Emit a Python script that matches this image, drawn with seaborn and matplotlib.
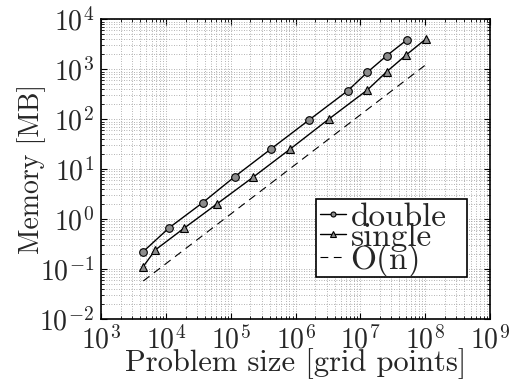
import numpy as np
import pandas as pd
import seaborn as sns
from matplotlib import pyplot as plt
from matplotlib.patches import Rectangle
from matplotlib.ticker import LogLocator, NullFormatter

# problem size [grid points] and memory [MB]
double_n = [4.46e3, 1.13e4, 3.7e4, 1.15e5, 4.18e5, 1.62e6, 6.4e6, 1.28e7, 2.55e7, 5.2e7]
double_mem = [0.225, 0.68, 2.15, 7.1, 25.5, 97, 373, 871, 1871, 3855]

single_n = [4.46e3, 6.85e3, 1.9e4, 6.1e4, 2.2e5, 8.3e5, 3.23e6, 1.28e7, 2.55e7, 5.08e7, 1.01e8]
single_mem = [0.113, 0.243, 0.66, 2.02, 6.9, 25.5, 100, 385, 895, 1930, 3980]

on_n = [4.46e3, 1.01e8]
on_mem = [0.058, 1219]

sns.set_style("ticks")
plt.rcParams['font.family'] = ['cmr10', 'DejaVu Serif']
plt.rcParams['mathtext.fontset'] = 'cm'
plt.rcParams['axes.formatter.use_mathtext'] = True
plt.rcParams['axes.unicode_minus'] = False

fig = plt.figure(figsize=(5.11, 3.85), dpi=100)
ax = fig.add_axes([0.198, 0.171, 0.761, 0.779])

sns.lineplot(x=double_n, y=double_mem, ax=ax, color='black', lw=1,
             marker='o', markersize=5.5, markerfacecolor='#8c8c8c',
             markeredgecolor='black', markeredgewidth=0.8, label='double')
sns.lineplot(x=single_n, y=single_mem, ax=ax, color='black', lw=1,
             marker='^', markersize=6, markerfacecolor='#8c8c8c',
             markeredgecolor='black', markeredgewidth=0.8, label='single')
sns.lineplot(x=on_n, y=on_mem, ax=ax, color='black', lw=0.8,
             linestyle=(0, (7, 5)), label='O(n)')

ax.set_xscale('log')
ax.set_yscale('log')
ax.set_xlim(1e3, 1e9)
ax.set_ylim(1e-2, 1e4)
ax.set_xticks([10.0**k for k in range(3, 10)])
ax.set_yticks([10.0**k for k in range(-2, 5)])
for axis in (ax.xaxis, ax.yaxis):
    axis.set_minor_locator(LogLocator(base=10, subs=np.arange(2, 10), numticks=100))
    axis.set_minor_formatter(NullFormatter())

ax.grid(True, which='both', color='#9a9a9a', linestyle=(0, (1, 2)), lw=0.6)
ax.tick_params(which='both', direction='in', top=True, right=True,
               labelsize=20, color='black')
ax.tick_params(which='major', length=4, pad=5)
ax.tick_params(which='minor', length=2)
for s in ax.spines.values():
    s.set_linewidth(1.2)
    s.set_color('black')

ax.set_xlabel('Problem size [grid points]', fontsize=22, labelpad=-5)
ax.set_ylabel('Memory [MB]', fontsize=20, labelpad=-5)

# legend box (drawn as its own rectangle so it can be wider than the text)
ax.add_patch(Rectangle((0.553, 0.141), 0.388, 0.26, transform=ax.transAxes,
                       facecolor='white', edgecolor='black', lw=1.2, zorder=4))
leg = ax.legend(loc='upper left', bbox_to_anchor=(0.553, 0.401), fontsize=24,
                frameon=False, handlelength=0.78, handletextpad=0.15,
                borderpad=0.1, labelspacing=-0.27, borderaxespad=0,
                markerscale=0.65)
leg.set_zorder(5)

plt.savefig('out.png', dpi=100)
